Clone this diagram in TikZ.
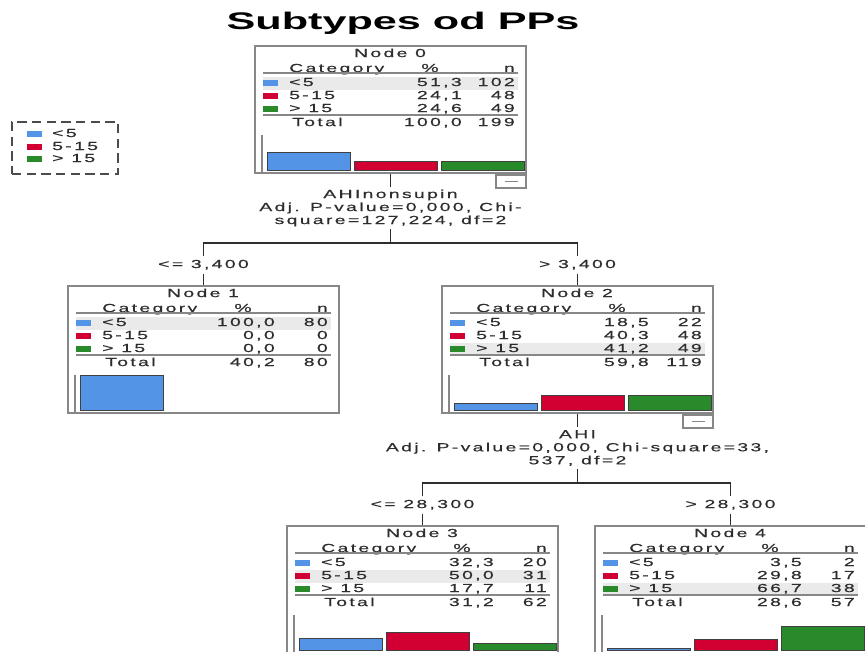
\documentclass[tikz,border=0pt]{standalone}
\usepackage{fontspec}
\setmainfont{Liberation Sans}
\newfontfamily\spssfont[FakeStretch=1.65,LetterSpace=20,FakeBold=0.5]{Liberation Sans}
\newfontfamily\titlefont[FakeStretch=1.8]{Liberation Sans}
\usepackage{tikz}
\usetikzlibrary{positioning}
\definecolor{cat1}{RGB}{83,148,230}
\definecolor{cat2}{RGB}{210,0,50}
\definecolor{cat3}{RGB}{40,138,42}
\definecolor{rowshade}{RGB}{234,234,234}
\definecolor{framegray}{RGB}{135,135,135}
\definecolor{inkgray}{RGB}{45,45,45}
\tikzset{
  spsstext/.style={font=\spssfont\fontsize{8.8pt}{9.75pt}\selectfont, text=inkgray, inner sep=0pt},
  cell/.style={spsstext, text height=6.3pt, text depth=1.7pt},
  treebox/.style={draw=framegray, line width=1.8pt, inner sep=0pt, minimum width=203.25pt, minimum height=95.25pt},
  minusbox/.style={draw=framegray, line width=1.4pt, fill=white, inner sep=0pt, minimum width=22.5pt, minimum height=9.75pt,
    path picture={\draw[framegray, line width=1pt] ([xshift=-5pt]path picture bounding box.center) -- ([xshift=5pt]path picture bounding box.center);}},
  tableline/.style={draw=framegray, line width=1.1pt},
  axisline/.style={draw=framegray, line width=1.4pt},
  catbar/.style={draw=black!75, line width=0.6pt},
  edge/.style={draw=inkgray, line width=1.3pt},
  splitlabel/.style={spsstext, align=center, inner sep=2pt},
  cutlabel/.style={cell, inner sep=2.2pt},
  legendbox/.style={draw=inkgray!85, line width=1.2pt, dash pattern=on 7pt off 4pt, minimum width=79.5pt, minimum height=39pt}
}
\newcommand{\catlabel}[1]{\ifcase#1\or<5\or5-15\or> 15\fi}
% #1 name, #2 left, #3 top, #4 number, #5 shaded row, #6 rows, #7 total %, #8 total n
\newcommand{\catnode}[8]{%
  \begin{scope}[shift={(#2,#3)}]
    \fill[rowshade] (8,{18+13*#5}) rectangle (263,{31+13*#5});
    \node[treebox] (#1) at (135.5,63.5) {};
    \node[cell] (#1-title) at (135,8) {Node #4};
    \node[cell, anchor=west] (#1-cat) at (34,23) {Category};
    \node[cell] (#1-pct) at (175,23) {\%};
    \node[cell, anchor=east] (#1-n) at (260,23) {n};
    \draw[tableline] (8,27) -- (263,27);
    \foreach \pc/\nn/\h [count=\i] in {#6} {
      \fill[cat\i] (8,{21+13*\i}) rectangle (23,{27+13*\i});
      \node[cell, anchor=west] (#1-lab\i) at (34,{24+13*\i}) {\catlabel{\i}};
      \node[cell, anchor=east] (#1-pc\i) at (207,{24+13*\i}) {\pc};
      \node[cell, anchor=east] (#1-nn\i) at (260,{24+13*\i}) {\nn};
      \ifdim \h pt>0pt
        \draw[catbar, fill=cat\i] ({12+87*(\i-1)},124) rectangle ({95+87*(\i-1)},{124-0.35*\h});
      \fi
    }
    \draw[tableline] (8,69) -- (263,69);
    \node[cell, anchor=west] (#1-tot) at (37,77) {Total};
    \node[cell, anchor=east] (#1-totpc) at (207,77) {#7};
    \node[cell, anchor=east] (#1-totn) at (260,77) {#8};
    \draw[axisline] (7,89) -- (7,126);
  \end{scope}}

\begin{document}
\begin{tikzpicture}[x=0.75pt,y=-0.75pt]
  \useasboundingbox (0,0) rectangle (865,652);
  \clip (0,0) rectangle (865,652);

  \node[font=\titlefont\bfseries\fontsize{18pt}{20pt}\selectfont, text=black] (title) at (403,23) {Subtypes od PPs};

  \node[legendbox] (legend) at (65,148) {};
  \foreach \i/\yy in {1/134,2/147,3/159} {
    \fill[cat\i] (27,{\yy-3}) rectangle (42,{\yy+3});
    \node[cell, anchor=west] (leg\i) at (52,\yy) {\catlabel{\i}};
  }

  \catnode{n0}{255}{46}{0}{1}{51{,}3/102/51.3, 24{,}1/48/24.1, 24{,}6/49/24.6}{100,0}{199}
  \catnode{n1}{68}{286}{1}{1}{100{,}0/80/100, 0{,}0/0/0, 0{,}0/0/0}{40,2}{80}
  \catnode{n2}{442}{286}{2}{3}{18{,}5/22/18.5, 40{,}3/48/40.3, 41{,}2/49/41.2}{59,8}{119}
  \catnode{n3}{287}{526}{3}{2}{32{,}3/20/32.3, 50{,}0/31/50, 17{,}7/11/17.7}{31,2}{62}
  \catnode{n4}{595}{526}{4}{3}{3{,}5/2/3.5, 29{,}8/17/29.8, 66{,}7/38/66.7}{28,6}{57}
  \node[minusbox, anchor=north east] (n0-minus) at (n0.south east) {};
  \node[minusbox, anchor=north east] (n2-minus) at (n2.south east) {};

  % first split
  \node[splitlabel] (s0) at (390.5,208) {AHInonsupin\\Adj. P-value=0,000, Chi-\\square=127,224, df=2};
  \coordinate (j0) at (390.5,243);
  \node[cutlabel] (c1) at (203.5,265) {<= 3,400};
  \node[cutlabel] (c2) at (577.5,265) {> 3,400};
  \draw[edge] (n0.south) -- (s0.north);
  \draw[edge] (s0.south) -- (j0);
  \draw[edge] (c1.north) |- (j0) -| (c2.north);
  \draw[edge] (c1.south) -- (n1.north);
  \draw[edge] (c2.south) -- (n2.north);

  % second split
  \node[splitlabel] (s2) at (577.5,448) {AHI\\Adj. P-value=0,000, Chi-square=33,\\537, df=2};
  \coordinate (j2) at (577.5,483);
  \node[cutlabel] (c3) at (422.5,505) {<= 28,300};
  \node[cutlabel] (c4) at (730.5,505) {> 28,300};
  \draw[edge] (n2.south) -- (s2.north);
  \draw[edge] (s2.south) -- (j2);
  \draw[edge] (c3.north) |- (j2) -| (c4.north);
  \draw[edge] (c3.south) -- (n3.north);
  \draw[edge] (c4.south) -- (n4.north);
\end{tikzpicture}
\end{document}
